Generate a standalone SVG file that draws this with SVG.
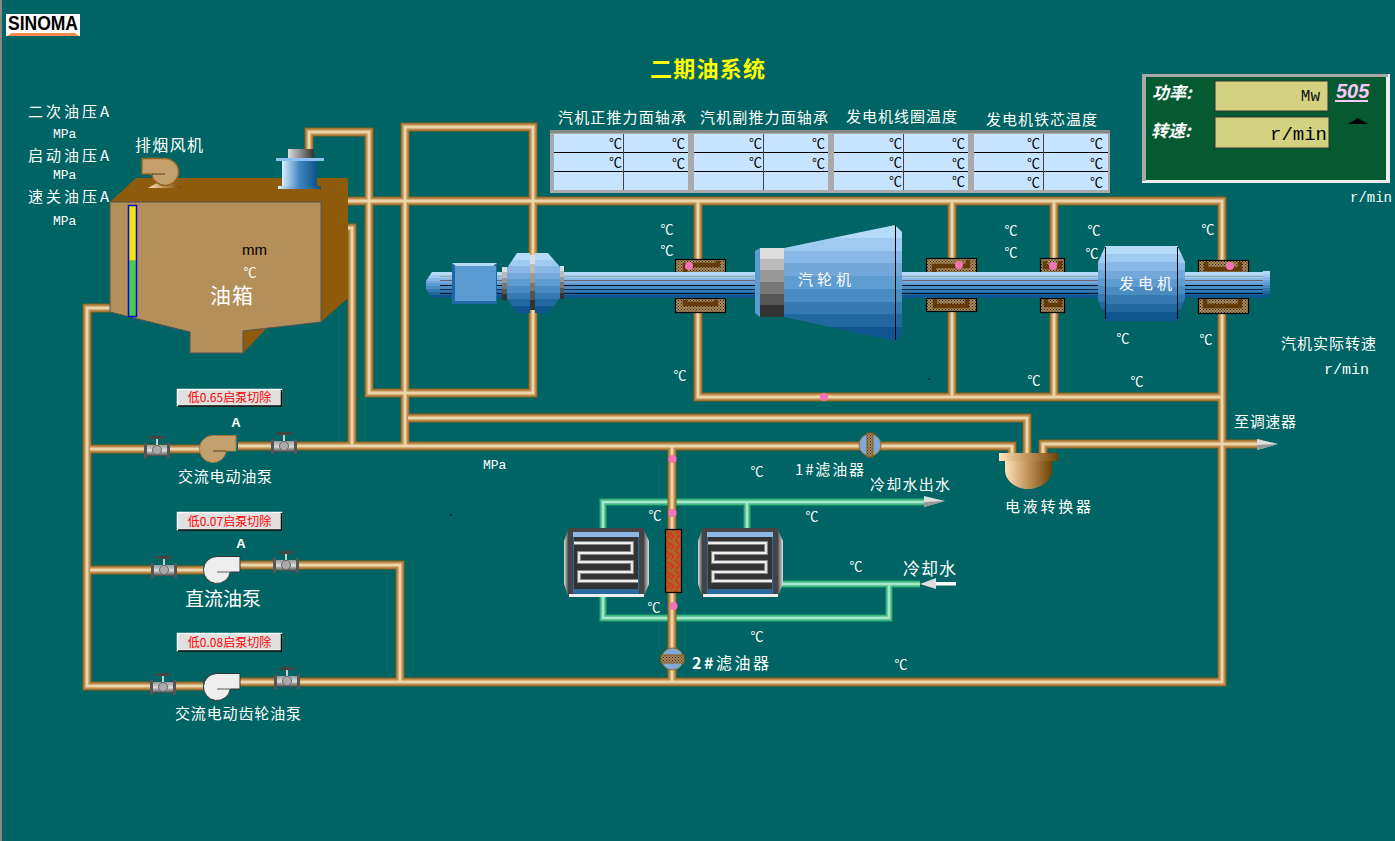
<svg xmlns="http://www.w3.org/2000/svg" width="1395" height="841" viewBox="0 0 1395 841">
<style>
text{font-family:"Noto Sans CJK SC","Liberation Sans",sans-serif;fill:#fff;font-size:15px}
.m{font-family:"Liberation Mono","DejaVu Sans Mono",monospace}
.s{font-family:"Liberation Sans",sans-serif}
.k{fill:#000}
.c{font-size:13px;text-anchor:middle}
.ct{font-size:13px;text-anchor:end;fill:#000}
.o1{fill:none;stroke:#8b5c14;stroke-width:9}
.o2{fill:none;stroke:#bb8c50;stroke-width:7}
.o3{fill:none;stroke:#ecd3a8;stroke-width:3}
.w1{fill:none;stroke:#0e8a60;stroke-width:8}
.w2{fill:none;stroke:#50c090;stroke-width:5.500}
.w3{fill:none;stroke:#a8e6c8;stroke-width:2.500}
.dot{fill:#f472b8}
.brg{fill:url(#stip);stroke:#000;stroke-width:1.2}
.brgi{fill:none;stroke:#643a08;stroke-width:4.5}
.line{stroke:#000;stroke-width:1}
.btnf{fill:#e0e0e0;stroke:#fff;stroke-width:1.5}
.btnt{fill:#f00;font-size:12px;text-anchor:middle}
.tbl{fill:#c6e4ff}
.blue{fill:url(#bv)}
.tb{stroke:#444;stroke-width:1}
</style>
<defs>
<linearGradient id="bv" x1="0" y1="0" x2="0" y2="1"><stop offset="0" stop-color="#b4dcfa"/><stop offset=".11" stop-color="#b4dcfa"/><stop offset=".11" stop-color="#9fcbf2"/><stop offset=".22" stop-color="#9fcbf2"/><stop offset=".22" stop-color="#8ab8e6"/><stop offset=".33" stop-color="#8ab8e6"/><stop offset=".33" stop-color="#74a8da"/><stop offset=".44" stop-color="#74a8da"/><stop offset=".44" stop-color="#5f9ccf"/><stop offset=".55" stop-color="#5f9ccf"/><stop offset=".55" stop-color="#4a8cc2"/><stop offset=".66" stop-color="#4a8cc2"/><stop offset=".66" stop-color="#3579b2"/><stop offset=".77" stop-color="#3579b2"/><stop offset=".77" stop-color="#20689f"/><stop offset=".88" stop-color="#20689f"/><stop offset=".88" stop-color="#0f5690"/><stop offset="1" stop-color="#0f5690"/></linearGradient>
<linearGradient id="bh" x1="0" y1="0" x2="1" y2="0"><stop offset="0" stop-color="#d8eeff"/><stop offset=".5" stop-color="#3f86c0"/><stop offset="1" stop-color="#0f5188"/></linearGradient>
<linearGradient id="gv" x1="0" y1="0" x2="0" y2="1"><stop offset="0" stop-color="#ddd"/><stop offset=".16" stop-color="#ddd"/><stop offset=".16" stop-color="#bbb"/><stop offset=".32" stop-color="#bbb"/><stop offset=".32" stop-color="#999"/><stop offset=".5" stop-color="#999"/><stop offset=".5" stop-color="#777"/><stop offset=".66" stop-color="#777"/><stop offset=".66" stop-color="#555"/><stop offset=".82" stop-color="#555"/><stop offset=".82" stop-color="#333"/><stop offset="1" stop-color="#333"/></linearGradient>
<linearGradient id="gh" x1="0" y1="0" x2="1" y2="0"><stop offset="0" stop-color="#ddd"/><stop offset="1" stop-color="#333"/></linearGradient>
<linearGradient id="gl" x1="0" y1="0" x2="1" y2="0"><stop offset="0" stop-color="#ddd"/><stop offset="1" stop-color="#555"/></linearGradient>
<linearGradient id="gr" x1="0" y1="0" x2="1" y2="0"><stop offset="0" stop-color="#555"/><stop offset="1" stop-color="#ddd"/></linearGradient>
<linearGradient id="tn" x1="0" y1="0" x2="1" y2="0"><stop offset="0" stop-color="#ffe2b8"/><stop offset=".55" stop-color="#b88a50"/><stop offset="1" stop-color="#6e4204"/></linearGradient>
<linearGradient id="gvv" x1="0" y1="0" x2="0" y2="1"><stop offset="0" stop-color="#999"/><stop offset=".5" stop-color="#ddd"/><stop offset="1" stop-color="#444"/></linearGradient>
<pattern id="stip" width="3" height="3" patternUnits="userSpaceOnUse"><rect width="3" height="3" fill="#b08c58"/><rect width="1" height="1" fill="#222"/><rect x="1.5" y="1.5" width="1" height="1" fill="#222"/></pattern>
<pattern id="hatch" width="10" height="10" patternUnits="userSpaceOnUse"><rect width="10" height="10" fill="#a8622a"/><path d="M0 3 L4 7 M5 0 L9 4 M6 9 L10 5 M1 9 L4 6" stroke="#f02010" stroke-width="1.200" fill="none"/></pattern>
<path id="oilp" d="M110 308H87V686H152M175 686H203M90 449H200M238 446H1012V455M90 570H205M238 565H400V682M240 682H1222V201H337M338 228H352V445M309 155V132H369V393H533V127H405V445M408 418H1027V456M698 201V397H1222M952 201V397M1054 201V397M1043 455V444H1262M672 445V682"/>
<path id="watp" d="M603 530V502H925M747 502V529M603 596V618H889V584M782 584H920"/>
<g id="volute"><path d="M14 .5H37V16H27.300A13.500 13.500 0 1 1 14 .5Z"/><path d="M14 16H27" stroke="#000" stroke-opacity=".5" fill="none" stroke-width="1.200"/></g>
<g id="valve"><rect x="-7.500" y="-12" width="15" height="3" fill="#444"/><rect x="-1" y="-9" width="2" height="6" fill="#ccc"/><rect x="-13" y="-3" width="26" height="11" fill="url(#gvv)"/><rect x="-13" y="-5" width="3" height="15" fill="#555"/><rect x="10" y="-5" width="3" height="15" fill="#555"/><circle cx="0" cy="2" r="4.500" fill="#aaa" stroke="#666"/></g>
<g id="hx">
<polygon points="0,13 4,2 4,68 0,56" fill="url(#gl)"/><polygon points="80,2 85,13 85,56 80,68" fill="url(#gr)"/>
<rect x="4" y="0" width="76" height="69" fill="#444"/>
<rect x="9" y="4" width="66" height="62" fill="#2a6aa0"/>
<rect x="9" y="4" width="66" height="5" fill="#8cb8e8"/>
<rect x="10" y="9" width="64" height="52" fill="#333"/>
<rect x="5" y="66" width="75" height="3" fill="#eee"/>
<path d="M10 15H68V25H15V34H68V44H15V53H74" fill="none" stroke="#888" stroke-width="4"/>
<path d="M10 15H68V25H15V34H68V44H15V53H74" fill="none" stroke="#eee" stroke-width="1.800"/>
</g>
<g id="tab"><rect x="0" y="0" width="140" height="63" fill="#aaa"/><rect x="0" y="0" width="140" height="3" fill="#888"/><rect x="4" y="4" width="134" height="56" class="tbl"/><path d="M4 22.500H138M4 41.500H138" class="line"/><path d="M73.500 4V60" class="tb"/></g>
</defs>

<rect width="1395" height="841" fill="#006464"/>
<rect width="2" height="841" fill="#888"/>

<g id="connectors">
<g id="water-pipes"><use href="#watp" class="w1"/><use href="#watp" class="w2"/><use href="#watp" class="w3"/></g>
<g id="oil-pipes"><use href="#oilp" class="o1"/><use href="#oilp" class="o2"/><use href="#oilp" class="o3"/></g>
<g id="arrows">
<polygon points="1257,439 1278,444 1257,450" fill="#ddd"/><polygon points="1257,445 1278,444 1257,450" fill="#999"/>
<polygon points="924,496 945,501 924,507" fill="#ddd"/><polygon points="924,502 945,501 924,507" fill="#999"/>
<polygon points="920,584 936,578 936,589" fill="#ddd"/><rect x="936" y="582" width="20" height="3.500" fill="#fff"/>
</g>
</g>

<g id="logo"><rect x="6" y="14" width="74" height="22" fill="#fff"/><text x="8" y="30" textLength="70" lengthAdjust="spacingAndGlyphs" style="font-size:20px;font-weight:bold;font-family:'Liberation Sans',sans-serif;fill:#000">SINOMA</text><polygon points="7,36 12,33 75,33 79,36" fill="#ff8a50"/></g>
<text x="650" y="77" style="fill:#ff0;font-size:22px;font-weight:bold" textLength="115">二期油系统</text>

<g id="pressure-labels">
<text x="28" y="117" textLength="81">二次油压A</text><text x="53" y="138" class="m" style="font-size:13px">MPa</text>
<text x="28" y="161" textLength="81">启动油压A</text><text x="53" y="179" class="m" style="font-size:13px">MPa</text>
<text x="28" y="202" textLength="81">速关油压A</text><text x="53" y="225" class="m" style="font-size:13px">MPa</text>
</g>

<g id="oil-tank">
<polygon points="110,202 136,178 348,178 321,202" fill="#8e5a0c"/>
<polygon points="321,202 348,178 348,298 321,322" fill="#8e5a0c"/>
<polygon points="243,331 268,327 243,353" fill="#8e5a0c"/>
<polygon points="110,202 321,202 321,322 243,331 243,353 190,353 190,332 110,312" fill="#b48f59" stroke="#555" stroke-width="1"/>
<rect x="128.500" y="205.500" width="8" height="55" fill="#f0e800"/><rect x="128.500" y="260.500" width="8" height="56" fill="#4ccc48"/><rect x="128.500" y="205.500" width="8" height="111" fill="none" stroke="#00f" stroke-width="1.500"/>
<text x="242" y="255" style="font-size:15px;fill:#000;font-family:'Liberation Sans',sans-serif">mm</text>
<text x="250" y="277" class="c">℃</text>
<text x="210" y="303" style="font-size:21px" textLength="43">油箱</text>
</g>
<g id="exhaust-fan">
<text x="135" y="151" textLength="68" style="font-size:16px">排烟风机</text>
<polygon points="148,188 182,188 168,180 162,180" fill="url(#tn)"/>
<g transform="translate(179,158) scale(-1,1)" fill="#c4a06c" stroke="#96641e" stroke-width="1.500"><use href="#volute"/></g>
</g>
<g id="motor">
<rect x="288" y="149" width="26" height="9" fill="url(#gh)"/>
<rect x="276" y="158" width="48" height="3" fill="#8cc0f0"/>
<rect x="282" y="161" width="35" height="25" fill="url(#bh)"/>
<rect x="278" y="186" width="43" height="3" fill="url(#bh)"/>
</g>

<g id="bearing-tables">
<text x="558" y="123" textLength="128">汽机正推力面轴承</text>
<text x="700" y="123" textLength="128">汽机副推力面轴承</text>
<text x="846" y="122" textLength="111">发电机线圈温度</text>
<text x="986" y="125" textLength="111">发电机铁芯温度</text>
<use href="#tab" x="550" y="130"/><use href="#tab" x="690" y="130"/><use href="#tab" x="830" y="130"/><use href="#tab" x="970" y="130"/>
<g id="table-units">
<text x="622" y="148" class="ct">℃</text><text x="685" y="148" class="ct">℃</text><text x="622" y="167" class="ct">℃</text><text x="685" y="168" class="ct">℃</text>
<text x="762" y="148" class="ct">℃</text><text x="825" y="148" class="ct">℃</text><text x="762" y="167" class="ct">℃</text><text x="825" y="168" class="ct">℃</text>
<text x="902" y="148" class="ct">℃</text><text x="965" y="148" class="ct">℃</text><text x="902" y="167" class="ct">℃</text><text x="965" y="168" class="ct">℃</text><text x="902" y="186" class="ct">℃</text><text x="965" y="186" class="ct">℃</text>
<text x="1040" y="148" class="ct">℃</text><text x="1103" y="148" class="ct">℃</text><text x="1040" y="168" class="ct">℃</text><text x="1103" y="168" class="ct">℃</text><text x="1040" y="187" class="ct">℃</text><text x="1103" y="187" class="ct">℃</text>
</g>
</g>

<g id="panel-505">
<rect x="1142" y="74" width="248" height="109" fill="#eee"/>
<path d="M1142 74H1388V77H1146V181H1142Z" fill="#aaa"/>
<rect x="1146" y="77" width="240" height="103" fill="#055a32"/>
<rect x="1215" y="81" width="113" height="30" fill="#d2d280" stroke="#333" stroke-width="1"/>
<rect x="1215" y="117" width="114" height="31" fill="#d2d280" stroke="#333" stroke-width="1"/>
<text x="1152" y="99" style="font-size:17px;font-style:italic;font-weight:bold">功率:</text>
<text x="1151" y="137" style="font-size:17px;font-style:italic;font-weight:bold">转速:</text>
<text x="1320" y="101" style="fill:#111;font-size:16px;text-anchor:end;font-family:'Liberation Mono',monospace">Mw</text>
<text x="1327" y="140" style="fill:#000;font-size:19px;text-anchor:end;font-family:'Liberation Mono',monospace">r/min</text>
<text x="1336" y="98" style="fill:#f8c8f8;font-size:20px;font-style:italic;font-weight:bold;font-family:'Liberation Sans',sans-serif">505</text>
<rect x="1335" y="100" width="33" height="2" fill="#f8c8f8"/>
<polygon points="1348,124 1358,118 1368,124" fill="#000"/>
</g>
<text x="1350" y="202" style="font-size:14px;font-family:'Liberation Mono',monospace">r/min</text>

<g id="bearings">
<g id="bearing-1"><rect x="675.500" y="259.500" width="50" height="13" class="brg"/><rect x="675.500" y="298.500" width="50" height="14" class="brg"/><path d="M685 272V265H718V261M685 300V304H716V300" class="brgi"/></g>
<g id="bearing-2"><rect x="926.500" y="258.500" width="50" height="14" class="brg"/><rect x="926.500" y="298.500" width="50" height="13" class="brg"/><path d="M934 272V266H968V260M935 299V306H967V299" class="brgi"/></g>
<g id="bearing-3"><rect x="1040.500" y="258.500" width="24" height="14" class="brg"/><rect x="1040.500" y="298.500" width="24" height="14" class="brg"/><path d="M1045 261V267H1060V261M1046 299V305H1060V299" class="brgi"/></g>
<g id="bearing-4"><rect x="1198.500" y="260.500" width="50" height="12" class="brg"/><rect x="1198.500" y="298.500" width="50" height="15" class="brg"/><path d="M1206 262V269H1240V262M1205 299V306H1240V299" class="brgi"/></g>
</g>

<g id="rotor">
<rect x="433" y="272" width="830" height="26" class="blue"/>
<path d="M440 276.500H1263" stroke="#9aa" stroke-width="1" fill="none"/><path d="M440 280.500H1263" stroke="#667" stroke-width="1" fill="none"/><path d="M440 285.500H1263M440 293.500H1263" stroke="#001020" stroke-width="1" fill="none"/><path d="M440 289.500H1263" stroke="#0a2a50" stroke-width="1" fill="none"/>
<polygon points="426,281 432,272 440,272 440,298 432,298 426,289" class="blue"/>
<rect x="1263" y="271" width="7" height="26" class="blue"/>
<g id="front-box"><rect x="452" y="263" width="45" height="41" fill="#1f6aa5"/><polygon points="452,263 497,263 493,266 456,266" fill="#b8dcf8"/><rect x="455" y="266" width="41" height="35" fill="#5b9bd2"/></g>
<g id="coupling"><rect x="502" y="267" width="5" height="33" fill="url(#gv)"/><polygon points="507,268 517,253 530,253 530,313 517,313 507,299" class="blue"/><rect x="530" y="255" width="5" height="55" fill="url(#gv)"/><polygon points="535,253 548,253 560,267 560,298 548,313 535,313" class="blue"/><rect x="560" y="266" width="4" height="33" fill="url(#gv)"/></g>
<g id="turbine"><polygon points="755,251 760,248 760,317 755,313" fill="#5b9bd2"/><rect x="760" y="248" width="24" height="69" fill="url(#gv)"/><polygon points="784,248 895,225 895,341 784,317" class="blue"/><polygon points="895,225 902,232 902,335 895,341" class="blue"/><path d="M895.500 225V340" stroke="#000" stroke-width="1"/><text x="798" y="285" textLength="53">汽轮机</text></g>
<g id="generator"><polygon points="1105,247 1098,262 1098,300 1105,318" class="blue"/><rect x="1105" y="246" width="73" height="75" class="blue"/><polygon points="1178,247 1185,262 1185,298 1178,318" class="blue"/><path d="M1105.500 247V319M1177.500 247V319" stroke="#000" stroke-width="1"/><text x="1119" y="289" textLength="53">发电机</text></g>
</g>

<g id="sensors">
<circle cx="689" cy="266" r="4" class="dot"/><circle cx="959" cy="265" r="4" class="dot"/><circle cx="1053" cy="266" r="4" class="dot"/><circle cx="1230" cy="266" r="4" class="dot"/><circle cx="824" cy="397" r="4" class="dot"/><circle cx="672.500" cy="459" r="4" class="dot"/><circle cx="672.500" cy="513" r="4" class="dot"/><circle cx="673.500" cy="606" r="4" class="dot"/>
</g>

<g id="temps">
<text x="667" y="234" class="c">℃</text><text x="667" y="255" class="c">℃</text><text x="680" y="380" class="c">℃</text>
<text x="1011" y="235" class="c">℃</text><text x="1011" y="257" class="c">℃</text><text x="1094" y="235" class="c">℃</text><text x="1092" y="258" class="c">℃</text><text x="1208" y="234" class="c">℃</text>
<text x="1123" y="343" class="c">℃</text><text x="1206" y="344" class="c">℃</text><text x="1034" y="385" class="c">℃</text><text x="1137" y="386" class="c">℃</text>
<text x="757" y="476" class="c">℃</text><text x="655" y="520" class="c">℃</text><text x="812" y="521" class="c">℃</text><text x="856" y="571" class="c">℃</text><text x="654" y="612" class="c">℃</text><text x="757" y="641" class="c">℃</text><text x="901" y="669" class="c">℃</text>
</g>

<g id="filter-1"><circle cx="870" cy="445" r="11" fill="#7fa9d8" stroke="#9c6a28"/><rect x="867" y="433" width="6" height="24" fill="url(#stip)" stroke="#8b5c14"/><text x="795" y="475" textLength="69">1#滤油器</text></g>
<g id="filter-2"><circle cx="672.500" cy="659" r="11" fill="#7fa9d8" stroke="#9c6a28"/><rect x="661" y="655" width="23" height="8" fill="url(#stip)" stroke="#8b5c14"/><text x="692" y="669" textLength="77" style="font-size:16px"><tspan style="font-weight:bold">2#</tspan>滤油器</text></g>

<g id="cooler-1"><use href="#hx" x="564" y="528"/></g>
<g id="cooler-2"><use href="#hx" x="698" y="528"/></g>
<g id="cooler-core"><rect x="665.500" y="529.500" width="16" height="63" fill="url(#hatch)" stroke="#000" stroke-width="1.200"/></g>

<g id="converter">
<rect x="999" y="453" width="59" height="8" fill="url(#tn)"/>
<path d="M1005 461H1052V470C1052 481 1040 489 1028 489C1016 489 1005 481 1005 470Z" fill="url(#tn)"/>
<text x="1005" y="512" textLength="86">电液转换器</text>
</g>

<g id="pump-ac">
<rect x="177.500" y="389.500" width="104" height="16" class="btnf"/><path d="M281.500 390V406H178" stroke="#000" stroke-width="1.500" fill="none"/><text x="229.500" y="402" class="btnt">低0.65启泵切除</text>
<text x="236" y="427" style="font-size:13px;font-weight:bold;text-anchor:middle;font-family:'Liberation Sans',sans-serif">A</text>
<g transform="translate(199,435)" fill="#c4a06c" stroke="#a87a3c" stroke-width="1"><use href="#volute"/></g>
<text x="178" y="482" textLength="94">交流电动油泵</text>
</g>
<g id="pump-dc">
<rect x="177.500" y="512.500" width="104" height="17" class="btnf"/><path d="M281.500 513V530H178" stroke="#000" stroke-width="1.500" fill="none"/><text x="229.500" y="525.500" class="btnt">低0.07启泵切除</text>
<text x="241" y="548" style="font-size:13px;font-weight:bold;text-anchor:middle;font-family:'Liberation Sans',sans-serif">A</text>
<g transform="translate(203,556)" fill="#eee" stroke="#333" stroke-width="1"><use href="#volute"/></g>
<text x="185" y="606" textLength="76" style="font-size:19px">直流油泵</text>
</g>
<g id="pump-gear">
<rect x="177.500" y="633.500" width="104" height="17" class="btnf"/><path d="M281.500 634V651H178" stroke="#000" stroke-width="1.500" fill="none"/><text x="229.500" y="646.500" class="btnt">低0.08启泵切除</text>
<g transform="translate(203,673)" fill="#eee" stroke="#333" stroke-width="1"><use href="#volute"/></g>
<text x="175" y="719" textLength="126">交流电动齿轮油泵</text>
</g>
<g id="valves">
<use href="#valve" x="157" y="448"/><use href="#valve" x="284" y="444"/><use href="#valve" x="164" y="568"/><use href="#valve" x="286" y="563"/><use href="#valve" x="163" y="685"/><use href="#valve" x="287" y="679"/>
</g>

<g id="labels">
<text x="483" y="469" style="font-size:13px;font-family:'Liberation Mono',monospace">MPa</text>
<text x="1281" y="349" textLength="95">汽机实际转速</text>
<text x="1324" y="374" style="font-size:15px;font-family:'Liberation Mono',monospace">r/min</text>
<text x="1234" y="427" textLength="62">至调速器</text>
<text x="870" y="490" textLength="80">冷却水出水</text>
<text x="903" y="575" textLength="53" style="font-size:17px">冷却水</text>
<rect x="450" y="514" width="1.500" height="1.500" fill="#000"/><rect x="928.500" y="378.500" width="1.500" height="1.500" fill="#000"/>
</g>
</svg>
